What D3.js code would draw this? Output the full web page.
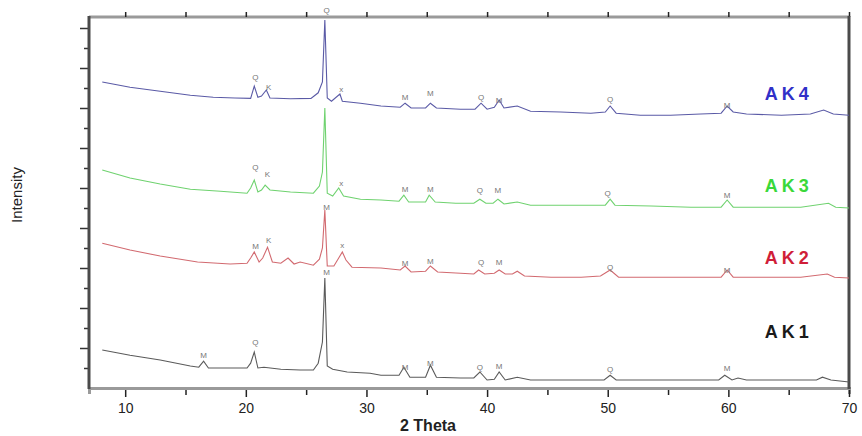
<!DOCTYPE html>
<html>
<head>
<meta charset="utf-8">
<script src="https://cdn.jsdelivr.net/npm/d3@7"></script>
<style>
  body { margin: 0; background: #fff; }
  svg text { font-family: "Liberation Sans Narrow", "Liberation Sans", Arial, sans-serif; }
</style>
</head>
<body>
<svg id="screen" width="862" height="436"></svg>
<script>
// Data: [2 theta, intensity]
var ak4 = [[8.1,765],[10.4,752],[12.9,742],[15.4,732],[17.3,727],[19.1,725],[20.4,724],[20.7,755],[21.0,727],[21.3,730],[21.7,745],[22.0,725],[23.7,723],[25.4,724],[26.0,738],[26.35,765],[26.55,920],[26.75,725],[27.1,717],[27.8,735],[28.0,717],[29.5,712],[31.2,705],[32.8,702],[33.2,712],[33.7,700],[34.9,700],[35.3,712],[35.8,700],[37.8,697],[39.0,697],[39.5,712],[40.0,697],[40.6,702],[41.0,720],[41.4,700],[42.5,705],[43.6,692],[46.1,690],[48.6,687],[49.8,690],[50.2,705],[50.7,687],[52.7,682],[55.2,682],[57.7,685],[59.4,687],[59.9,705],[60.4,690],[61.5,685],[64.4,682],[66.8,685],[67.9,695],[68.7,685],[70.0,682]];
var ak3 = [[8.1,545],[10.4,525],[12.9,510],[15.4,497],[17.9,492],[20.1,487],[20.4,500],[20.7,520],[21.0,490],[21.3,495],[21.6,507],[22.0,495],[23.7,490],[25.6,487],[26.1,505],[26.35,540],[26.55,700],[26.75,487],[27.2,480],[27.7,500],[28.1,480],[29.5,472],[31.2,470],[32.7,467],[33.1,482],[33.5,465],[34.9,465],[35.2,482],[35.7,465],[37.4,462],[38.9,462],[39.4,472],[39.9,462],[40.5,462],[40.9,472],[41.4,460],[42.5,465],[43.6,457],[46.1,457],[48.6,457],[49.8,457],[50.2,472],[50.6,457],[53.6,455],[56.9,452],[59.4,452],[59.9,470],[60.4,452],[62.7,452],[66.0,452],[68.3,462],[68.9,452],[70.0,450]];
var ak2 = [[8.1,362],[10.4,345],[12.9,330],[16.0,315],[18.7,310],[20.1,312],[20.4,325],[20.7,340],[21.1,315],[21.4,325],[21.8,352],[22.2,315],[22.9,312],[23.5,325],[24.0,310],[24.5,315],[25.6,307],[26.1,322],[26.35,350],[26.55,445],[26.75,305],[27.3,305],[27.7,325],[28.0,340],[28.3,320],[28.8,302],[31.2,300],[32.8,295],[33.2,305],[33.7,290],[34.9,292],[35.3,305],[35.9,290],[37.8,287],[38.9,285],[39.3,295],[39.8,285],[40.6,287],[41.0,295],[41.5,285],[42.1,285],[42.5,292],[43.1,280],[45.3,277],[47.8,277],[49.4,280],[50.2,295],[50.9,277],[54.4,277],[57.7,277],[59.4,277],[59.9,295],[60.4,277],[62.7,277],[66.0,277],[68.2,285],[68.8,277],[70.0,275]];
var ak1 = [[8.1,95],[10.4,82],[12.9,70],[15.4,55],[16.1,52],[16.5,67],[16.9,50],[18.7,50],[20.1,50],[20.4,62],[20.7,90],[21.0,50],[21.5,52],[22.9,47],[24.5,45],[25.6,45],[26.0,62],[26.35,115],[26.55,275],[26.75,55],[27.2,47],[28.4,40],[30.3,37],[31.2,32],[32.7,32],[33.1,52],[33.6,27],[34.9,27],[35.3,57],[35.8,27],[37.8,25],[38.9,25],[39.4,40],[40.0,20],[40.6,22],[41.0,40],[41.5,20],[42.5,27],[43.6,20],[46.1,20],[48.6,20],[49.7,20],[50.2,32],[50.7,20],[54.4,20],[57.7,20],[59.2,20],[59.7,32],[60.3,20],[60.8,25],[61.5,20],[64.4,20],[67.3,20],[67.8,27],[68.5,20],[70.0,15]];

// Phase marks: [2 theta, intensity, letter]
var ak4Marks = [[20.8,777,"Q"],[21.9,752,"K"],[26.7,945,"Q"],[27.9,747,"x"],[33.2,727,"M"],[35.3,737,"M"],[39.5,727,"Q"],[41.0,720,"M"],[50.2,722,"Q"],[59.9,707,"M"]];
var ak3Marks = [[20.8,552,"Q"],[21.8,535,"K"],[27.9,512,"x"],[33.2,497,"M"],[35.3,497,"M"],[39.4,495,"Q"],[40.9,495,"M"],[50.0,487,"Q"],[59.9,482,"M"]];
var ak2Marks = [[20.8,355,"M"],[21.9,370,"K"],[26.7,452,"M"],[28.0,357,"x"],[33.2,312,"M"],[35.3,317,"M"],[39.5,315,"Q"],[41.0,315,"M"],[50.2,302,"Q"],[59.9,295,"M"]];
var ak1Marks = [[16.5,82,"M"],[20.8,115,"Q"],[26.7,290,"M"],[33.2,52,"M"],[35.3,62,"M"],[39.4,52,"Q"],[41.0,55,"M"],[50.2,47,"Q"],[59.9,50,"M"]];

var names = ["AK4","AK3","AK2","AK1"];
var nameLevels = [737, 507, 325, 140];
var xTicks = [10,15,20,25,30,35,40,45,50,55,60,65,70];
var yTicks = [50,100,150,200,250,300,350,400,450,500,550,600,650,700,750,800,850,900];

// Look
var lineColors = ["#5a5aa6","#6fd26f","#d26a70","#5a5a5a"];
var nameColors = ["#3030c8","#3ad83a","#d01e38","#1a1a1a"];

var svg = d3.select("#screen");
var x = d3.scaleLinear().domain([7,70]).range([89,849]);
var y = d3.scaleLinear().domain([0,927.5]).range([388,17]);

// frame top
svg.append("line").attr("x1",89).attr("x2",849).attr("y1",y(927.5)).attr("y2",y(927.5))
    .attr("stroke","#9a9a9a").attr("stroke-width",3);

// bottom axis
var gb = svg.append("g").attr("transform","translate(0,"+y(0)+")")
    .call(d3.axisBottom(x).tickValues(xTicks).tickSize(6).tickPadding(6)
	  .tickFormat(function(d){ return d%10===0 ? d : ""; }));
gb.select(".domain").attr("stroke","#9a9a9a").attr("stroke-width",3);
gb.selectAll(".tick line").attr("stroke","#222").attr("stroke-width",1.5)
    .attr("y1",2).attr("y2",function(d){ return d%10===0 ? 9 : 7; });
gb.selectAll(".tick text").attr("font-size",14).attr("fill","#222").attr("dy","0.9em");

// top axis (ticks only)
var gt = svg.append("g").attr("transform","translate(0,"+y(927.5)+")")
    .call(d3.axisTop(x).tickValues(xTicks).tickSize(5).tickFormat(""));
gt.select(".domain").remove();
gt.selectAll(".tick line").attr("stroke","#222").attr("stroke-width",1.5);

// left axis
var gl = svg.append("g").attr("transform","translate("+x(7)+",0)")
    .call(d3.axisLeft(y).tickValues(yTicks).tickSize(6).tickFormat(""));
gl.select(".domain").remove();
gl.selectAll(".tick line").attr("stroke","#333").attr("stroke-width",1.5)
    .attr("x2",function(d){ return d%100===0 ? -9 : -5; });
svg.append("line").attr("x1",x(7)).attr("x2",x(7)).attr("y1",y(927.5)-1).attr("y2",y(0)+1)
    .attr("stroke","#4a4a4a").attr("stroke-width",3);
// right edge
svg.append("line").attr("x1",x(70)).attr("x2",x(70)).attr("y1",y(927.5)-1).attr("y2",y(0)+1)
    .attr("stroke","#4a4a4a").attr("stroke-width",3);

// patterns
var line = d3.line().x(function(d){ return x(d[0]); }).y(function(d){ return y(d[1]); });
var series = [ak4, ak3, ak2, ak1];
var marks = [ak4Marks, ak3Marks, ak2Marks, ak1Marks];
series.forEach(function(s, i){
    svg.append("path").datum(s).attr("d", line)
	.attr("fill","none").attr("stroke",lineColors[i]).attr("stroke-width",1.1);
});

// phase letters
marks.forEach(function(m, i){
    svg.append("g").selectAll("text").data(m).enter().append("text")
	.attr("x",function(d){ return x(d[0]); })
	.attr("y",function(d){ return y(d[1]); })
	.attr("text-anchor","middle").attr("dy","0.35em")
	.attr("font-size",8).attr("fill","#777")
	.text(function(d){ return d[2]; });
});

// sample names
svg.append("g").selectAll("text").data(names).enter().append("text")
    .attr("x",x(65.0)).attr("y",function(d,i){ return y(nameLevels[i]); })
    .attr("text-anchor","middle").attr("dy","0.36em")
    .attr("font-family","Liberation Sans, Arial, sans-serif")
    .attr("font-size",18).attr("font-weight","bold").attr("letter-spacing","4px")
    .attr("fill",function(d,i){ return nameColors[i]; })
    .text(function(d){ return d; });

// axis titles
svg.append("text").attr("transform","translate(22,195) rotate(-90)")
    .attr("text-anchor","middle").attr("font-size",15).attr("fill","#222").text("Intensity");
svg.append("text").attr("x",428).attr("y",431)
    .attr("text-anchor","middle").attr("font-size",16).attr("font-weight","bold")
    .attr("fill","#222").text("2 Theta");
</script>
</body>
</html>
